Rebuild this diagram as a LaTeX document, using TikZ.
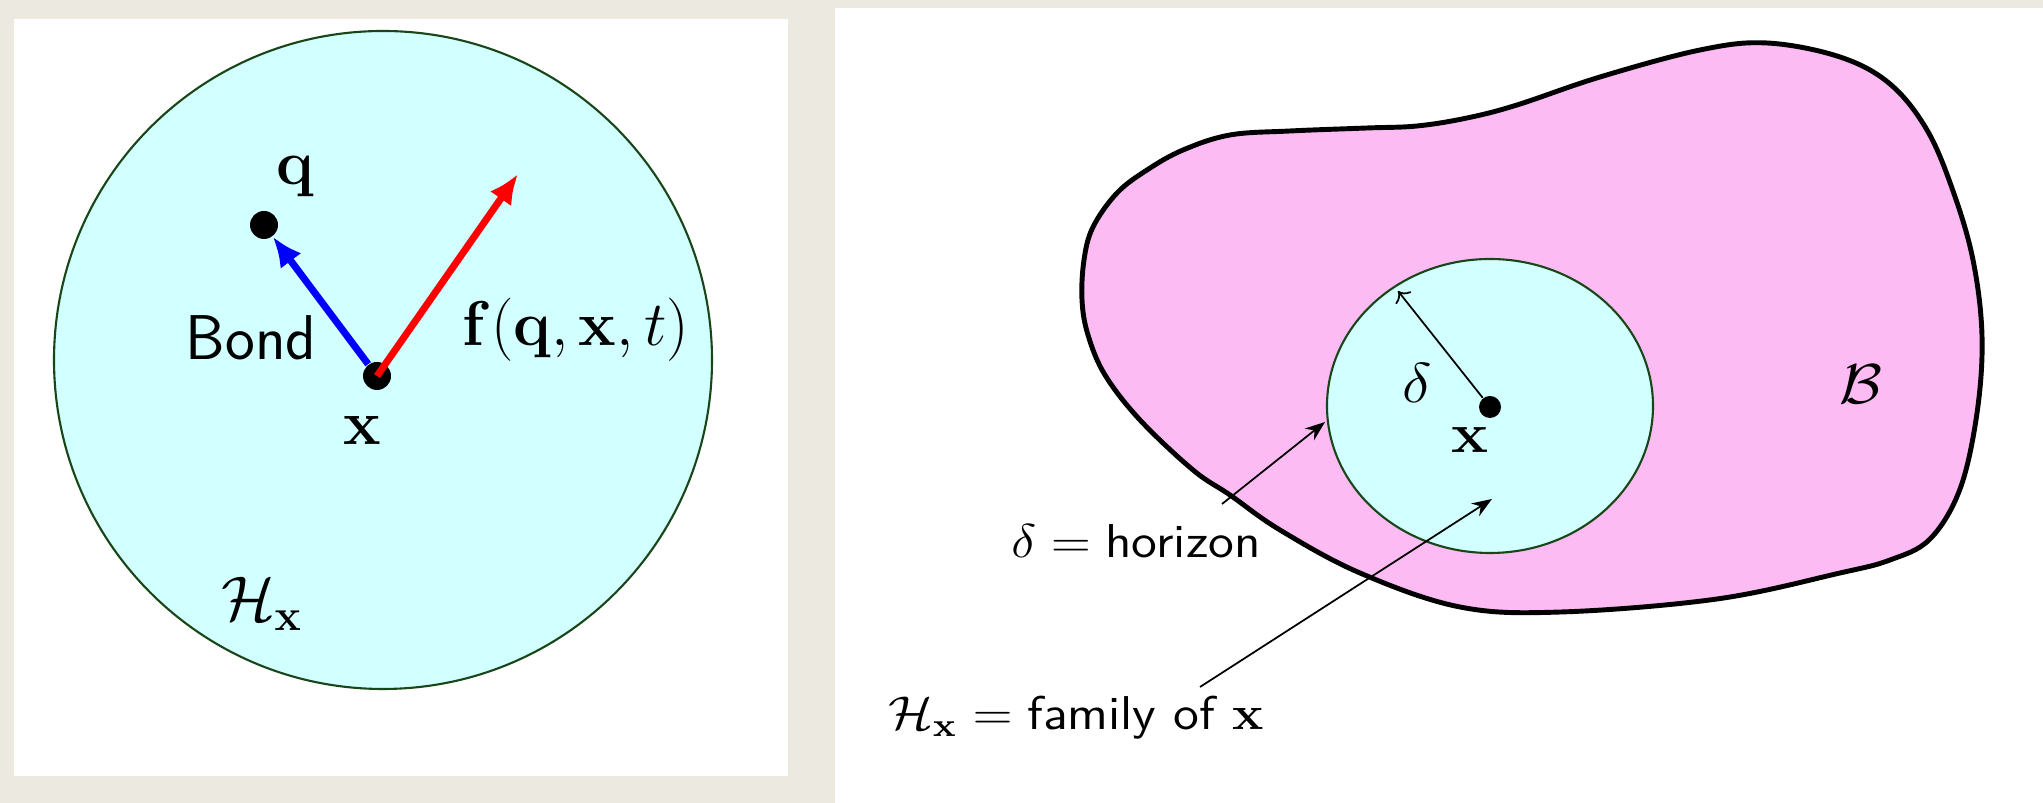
\RequirePackage{fix-cm}
\documentclass[tikz,border=0pt]{standalone}
\usepackage{amsmath,amssymb,bm}
\usepackage{graphicx}
\usepackage{xcolor}
\usetikzlibrary{arrows.meta,calc,positioning}
\definecolor{framegray}{RGB}{236,234,224}
\definecolor{famcyan}{RGB}{210,255,255}
\definecolor{bodypink}{RGB}{252,187,242}
\definecolor{rimgreen}{RGB}{25,70,25}
\newcommand{\widetxt}[1]{\scalebox{1.11}[1]{#1}}

\begin{document}
\begin{tikzpicture}[
    dot/.style={circle,fill=black,inner sep=0pt,minimum size=#1},
    dot/.default=2.8mm,
    big/.style={font=\fontsize{18}{22}\selectfont},
    mid/.style={font=\fontsize{16}{19}\selectfont},
    small/.style={font=\fontsize{13.5}{16}\selectfont},
    thinarrow/.style={-{Stealth[length=2mm,width=1.5mm]},line width=0.5pt},
    bondarrow/.style={line width=2pt,-{Latex[length=3mm,width=2.6mm]}}
  ]
  \useasboundingbox (0,0) rectangle (20.43,8.03);
  \fill[framegray] (0,0) rectangle (20.43,8.03);
  \fill[white] (0.14,0.27) rectangle (7.88,7.84);
  \fill[white] (8.35,0) rectangle (20.43,7.95);

  % left: the family of x and one bond
  \draw[rimgreen,fill=famcyan,line width=0.6pt] (3.83,4.43) circle (3.29);
  \node[dot] (xdot) at (3.77,4.27) {};
  \node[dot] (qdot) at (2.64,5.78) {};
  \coordinate (ftip) at (5.18,6.29);
  \draw[bondarrow,blue] (xdot) -- (qdot);
  \draw[bondarrow,red] (xdot.center) -- (ftip);
  \node[big] (qlab) at (2.95,6.26) {$\mathbf{q}$};
  \node[big] (xlab) at (3.62,3.73) {$\mathbf{x}$};
  \node[big] (bond) at (2.51,4.65) {\textsf{Bond}};
  \node[big] (force) at (5.76,4.73) {$\mathbf{f}(\mathbf{q},\mathbf{x},t)$};
  \node[big] (famlab) at (2.62,1.99) {$\mathcal{H}_{\mathbf{x}}$};

  % right: the body B with the horizon round x
  \draw[line width=1.4pt,fill=bodypink] plot[smooth cycle,tension=0.6] coordinates {
    (10.82,5.03) (10.84,5.43) (10.93,5.76) (11.17,6.10) (11.47,6.33)
    (11.83,6.53) (12.30,6.68) (12.90,6.72) (13.67,6.75) (14.17,6.77)
    (14.67,6.85) (15.17,6.98) (16.00,7.26) (17.00,7.53) (17.67,7.60)
    (18.40,7.46) (18.90,7.19) (19.27,6.73) (19.53,6.12) (19.73,5.43)
    (19.82,4.67) (19.77,3.90) (19.60,3.14) (19.30,2.64) (18.90,2.43)
    (18.40,2.30) (17.17,2.04) (15.61,1.91) (14.60,1.96) (13.60,2.30)
    (12.80,2.73) (12.30,3.08) (11.93,3.33) (11.40,3.83) (11.05,4.28)
    (10.88,4.68)};
  \draw[rimgreen,fill=famcyan,line width=0.6pt] (14.90,3.97) ellipse (1.63 and 1.47);
  \node[dot=2.2mm] (xin) at (14.90,3.96) {};
  \coordinate (rim) at (13.98,5.12);
  \draw[->,line width=0.5pt] (xin) -- (rim);
  \node[mid] (dlab) at (14.17,4.20) {\widetxt{$\delta$}};
  \node[mid] (xinlab) at (14.70,3.63) {\widetxt{$\mathbf{x}$}};
  \node[mid] (body) at (18.61,4.19) {\widetxt{$\mathcal{B}$}};
  \node[small] (hor) at (11.36,2.62) {\widetxt{$\delta=\textsf{horizon}$}};
  \node[small] (fam) at (10.76,0.85) {\widetxt{$\mathcal{H}_{\mathbf{x}}=\textsf{family of }\mathbf{x}$}};
  \coordinate (horfoot) at (12.22,2.99);
  \coordinate (hortip) at (13.25,3.81);
  \coordinate (famfoot) at (12.00,1.16);
  \coordinate (famtip) at (14.92,3.04);
  \draw[thinarrow] (horfoot) -- (hortip);
  \draw[thinarrow] (famfoot) -- (famtip);
\end{tikzpicture}
\end{document}
